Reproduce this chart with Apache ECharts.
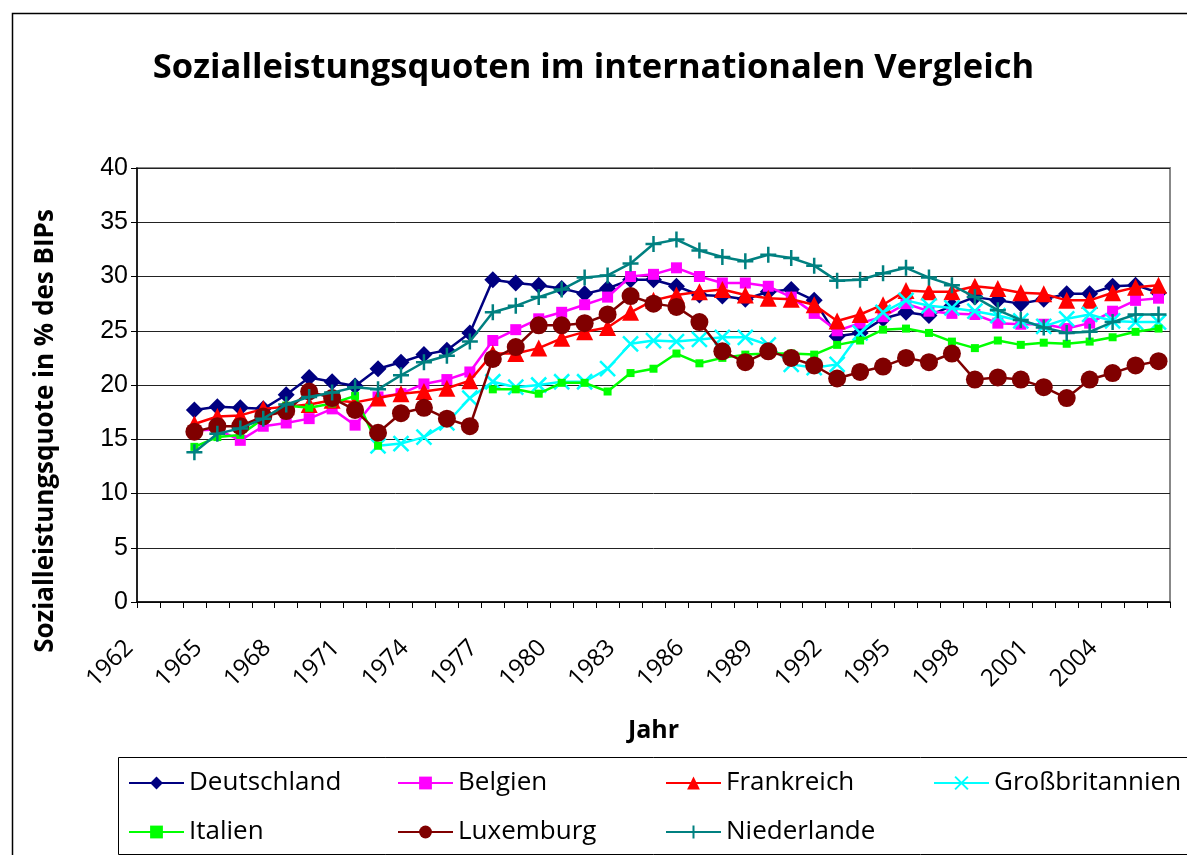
<!DOCTYPE html>
<html>
<head>
<meta charset="utf-8">
<script src="https://cdn.jsdelivr.net/npm/echarts@6/dist/echarts.min.js"></script>
<style>
html,body{margin:0;padding:0;background:#fff;}
#chart{width:1187px;height:855px;}
</style>
</head>
<body>
<div id="chart"></div>
<script>
const years = ['1962','1963','1964','1965','1966','1967','1968','1969','1970','1971','1972','1973','1974','1975','1976','1977','1978','1979','1980','1981','1982','1983','1984','1985','1986','1987','1988','1989','1990','1991','1992','1993','1994','1995','1996','1997','1998','1999','2000','2001','2002','2003','2004','2005','2006'];

const deutschland = [null,null,17.7,18.0,17.9,17.8,19.1,20.7,20.3,19.9,21.5,22.1,22.8,23.2,24.8,29.7,29.4,29.2,28.9,28.4,28.9,29.7,29.7,29.1,28.3,28.2,27.9,28.6,28.8,27.8,24.5,24.8,26.1,26.7,26.4,27.3,28.1,27.8,27.5,27.9,28.4,28.4,29.1,29.2,28.5];
const belgien = [null,null,15.8,15.9,14.9,16.2,16.5,16.9,17.8,16.3,18.9,19.2,20.1,20.5,21.2,24.1,25.1,26.1,26.7,27.4,28.1,30.0,30.2,30.8,30.0,29.4,29.4,29.1,28.1,26.6,25.0,25.7,26.3,27.5,26.8,26.6,26.5,25.7,25.6,25.6,25.2,25.7,26.8,27.8,28.0];
const frankreich = [null,null,16.4,17.1,17.2,17.8,18.0,18.2,18.6,18.4,18.8,19.2,19.4,19.7,20.4,22.9,22.9,23.4,24.3,24.9,25.3,26.7,27.8,28.3,28.6,28.8,28.3,28.0,27.9,27.4,25.9,26.5,27.4,28.7,28.6,28.6,29.1,28.9,28.5,28.4,27.8,27.8,28.5,29.0,29.2];
const grossbritannien = [null,null,null,null,null,null,null,null,null,null,14.4,14.6,15.2,16.5,18.8,20.3,19.8,20.0,20.3,20.3,21.5,23.8,24.1,24.0,24.2,24.4,24.4,23.7,21.9,21.6,21.9,24.8,26.7,27.8,27.3,27.1,26.8,26.4,25.9,25.4,26.1,26.5,25.9,25.8,25.8];
const italien = [null,null,14.3,15.2,15.4,16.9,18.1,17.9,18.3,19.0,14.4,null,null,null,null,19.6,19.6,19.2,20.2,20.2,19.4,21.1,21.5,22.9,22.0,22.5,22.8,22.9,22.9,22.8,23.7,24.1,25.1,25.2,24.8,24.0,23.4,24.1,23.7,23.9,23.8,24.0,24.4,24.9,25.2];
const luxemburg = [null,null,15.7,16.2,16.2,17.1,17.6,19.4,18.8,17.7,15.6,17.4,17.9,16.9,16.2,22.4,23.5,25.5,25.5,25.7,26.5,28.2,27.5,27.2,25.8,23.1,22.1,23.1,22.5,21.8,20.6,21.2,21.7,22.5,22.1,22.9,20.5,20.7,20.5,19.8,18.8,20.5,21.1,21.8,22.2];
const niederlande = [null,null,13.8,15.5,16.0,16.9,18.2,18.9,19.3,19.8,19.6,20.9,22.1,22.7,24.0,26.7,27.3,28.1,28.8,29.9,30.1,31.2,33.0,33.4,32.4,31.8,31.4,32.0,31.7,31.0,29.6,29.7,30.3,30.8,29.9,29.2,28.1,26.9,26.0,25.3,24.8,24.9,25.8,26.5,26.5];

const seriesNames = ['Deutschland','Belgien','Frankreich','Großbritannien','Italien','Luxemburg','Niederlande'];
const seriesData = [deutschland, belgien, frankreich, grossbritannien, italien, luxemburg, niederlande];

const styles = [
  {color:'#000080', symbol:'diamond', size:17},
  {color:'#FF00FF', symbol:'rect', size:11},
  {color:'#FF0000', symbol:'triangle', size:17},
  {color:'#00FFFF', symbol:'path://M0,0L10,10M0,10L10,0', size:15, stroke:true},
  {color:'#00FF00', symbol:'rect', size:8},
  {color:'#800000', symbol:'circle', size:18},
  {color:'#008080', symbol:'path://M5,0L5,10M0,5L10,5', size:16, stroke:true}
];

const chart = echarts.init(document.getElementById('chart'), null, {renderer:'canvas'});

const series = seriesNames.map((name, i) => {
  const s = styles[i];
  return {
    name: name,
    type: 'line',
    data: seriesData[i],
    symbol: s.symbol,
    symbolSize: s.size,
    showSymbol: true,
    showAllSymbol: true,
    connectNulls: false,
    lineStyle: {color: s.color, width: 2.5},
    itemStyle: s.stroke ? {color: s.color, borderColor: s.color, borderWidth: 2.5} : {color: s.color, borderWidth: 0},
    emphasis: {disabled: true},
    z: 3 + i
  };
});

const legendLefts = [128, 397, 665, 933];
const legendTops = [767, 816];
const legends = seriesNames.map((name, i) => ({
  data: [name],
  left: legendLefts[i % 4],
  top: legendTops[Math.floor(i / 4)],
  orient: 'horizontal',
  padding: 0,
  itemWidth: 55,
  itemHeight: 16,
  selectedMode: false,
  textStyle: {fontFamily: 'Open Sans', fontSize: 26, color: '#000', lineHeight: 32}
}));

const option = {
  animation: false,
  backgroundColor: '#ffffff',
  title: {
    text: 'Sozialleistungsquoten im internationalen Vergleich',
    left: 'center',
    top: 46,
    padding: [5, 5, 5, 24],
    textStyle: {fontFamily: 'Open Sans', fontWeight: 'bold', fontSize: 34.5, color: '#000'}
  },
  legend: legends,
  grid: {
    left: 137, top: 168, width: 1033, height: 434,
    containLabel: false,
    show: true, borderColor: '#888888', borderWidth: 2, backgroundColor: 'transparent'
  },
  xAxis: {
    type: 'category',
    data: years,
    boundaryGap: true,
    name: 'Jahr',
    nameLocation: 'middle',
    nameGap: 116,
    nameTextStyle: {fontFamily: 'Open Sans', fontWeight: 'bold', fontSize: 25, color: '#000'},
    axisLine: {show: true, lineStyle: {color: '#000', width: 1.5}},
    axisTick: {show: true, interval: 0, length: 6, alignWithLabel: false, lineStyle: {color: '#000', width: 1}},
    axisLabel: {interval: 2, rotate: 45, fontFamily: 'Open Sans', fontSize: 24, color: '#000', margin: 23, padding: [0, 27, 0, 0]},
    splitLine: {show: false}
  },
  yAxis: {
    type: 'value',
    min: 0, max: 40, interval: 5,
    name: 'Sozialleistungsquote in % des BIPs',
    nameLocation: 'middle',
    nameRotate: 90,
    nameGap: 78,
    nameTextStyle: {fontFamily: 'Open Sans', fontWeight: 'bold', fontSize: 26, color: '#000', padding: [0, 92, 0, 0]},
    axisLine: {show: true, lineStyle: {color: '#000', width: 1.5}},
    axisTick: {show: true, length: 6, lineStyle: {color: '#000', width: 1}},
    axisLabel: {fontFamily: 'Liberation Sans', fontSize: 25, color: '#000', margin: 9},
    splitLine: {show: true, lineStyle: {color: '#222', width: 1}}
  },
  graphic: [
    {type: 'rect', left: 10, top: 11, shape: {x: 0, y: 0, width: 1200, height: 870}, style: {fill: 'none', stroke: '#000', lineWidth: 1.5}, silent: true, z: -1},
    {type: 'rect', left: 116, top: 755, shape: {x: 0, y: 0, width: 1100, height: 97}, style: {fill: 'none', stroke: '#000', lineWidth: 1}, silent: true, z: -1}
  ],
  series: series
};

chart.setOption(option);
</script>
</body>
</html>
